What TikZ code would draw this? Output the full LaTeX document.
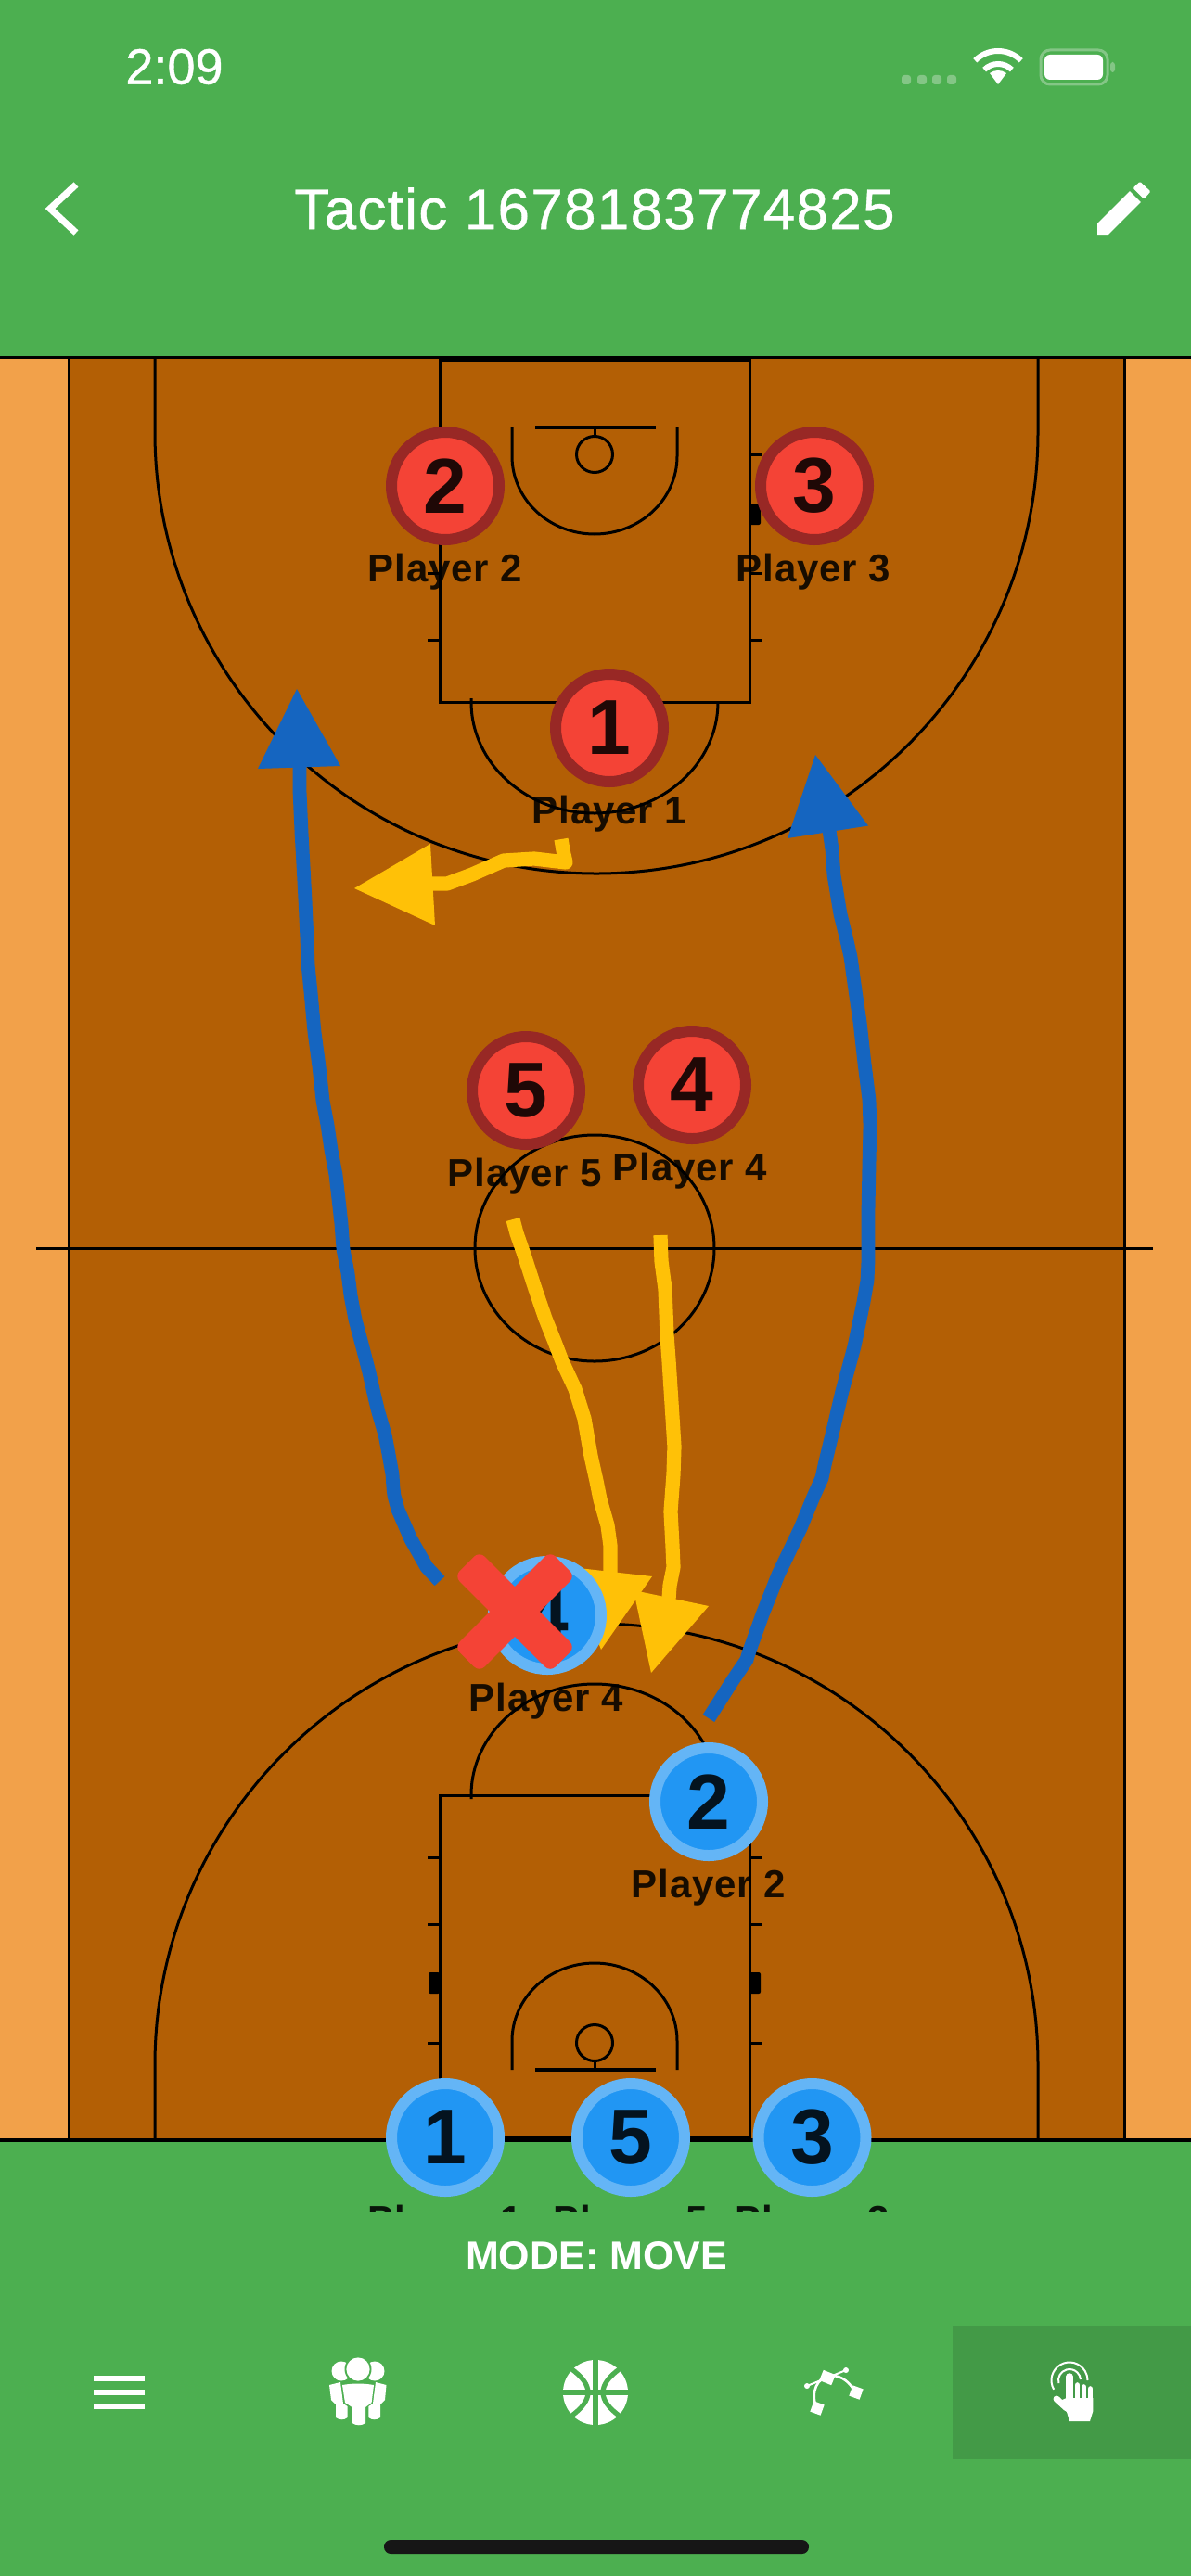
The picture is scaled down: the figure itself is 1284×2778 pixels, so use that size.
\documentclass[tikz,border=0pt]{standalone}
\usepackage{fontspec}
\setmainfont{Liberation Sans}
\newfontfamily\medfont[FakeBold=0.7]{Liberation Sans}
\newfontfamily\titlefont[FakeBold=0.6,LetterSpace=2.1]{Liberation Sans}
\newfontfamily\labelfont[LetterSpace=2]{Liberation Sans Bold}
\newfontfamily\numfont{Liberation Sans Bold}
\definecolor{appgreen}{HTML}{4CAF50}
\definecolor{activegreen}{HTML}{439A47}
\definecolor{courtbrown}{HTML}{B35F05}
\definecolor{sideorange}{HTML}{F2A14A}
\definecolor{redfill}{HTML}{F44336}
\definecolor{redring}{HTML}{982825}
\definecolor{bluefill}{HTML}{2196F3}
\definecolor{bluering}{HTML}{64B5F6}
\definecolor{pathblue}{HTML}{1565C0}
\definecolor{pathyellow}{HTML}{FFC107}
\definecolor{homebar}{HTML}{161616}
\definecolor{dimdot}{HTML}{84C686}
\tikzset{
  courtline/.style={draw=black,line width=1.5pt},
  bluepath/.style={draw=pathblue,line width=7.4pt,line join=round},
  yellowpath/.style={draw=pathyellow,line width=7.6pt,line join=round},
  redplayer/.style={circle,inner sep=0pt,minimum size=58pt,line width=6pt,draw=redring,fill=redfill,text=black,text opacity=.87,font=\numfont\fontsize{42pt}{42pt}\selectfont},
  blueplayer/.style={circle,inner sep=0pt,minimum size=58pt,line width=6pt,draw=bluering,fill=bluefill,text=black,text opacity=.87,font=\numfont\fontsize{42pt}{42pt}\selectfont},
  playerlabel/.style={anchor=base,inner sep=0pt,text=black,text opacity=.87,font=\labelfont\fontsize{21pt}{22pt}\selectfont},
  whitetext/.style={text=white,inner sep=0pt},
  iconline/.style={draw=white,line cap=round},
}
\newcommand{\courthalf}{%
  \draw[courtline] (167,385) -- (167,466) arc[start angle=180,end angle=0,x radius=476,y radius=476] -- (1119,385);
  \draw[courtline] (474,388) rectangle (808,757);
  \draw[courtline] (508,753) -- (508,757) arc[start angle=180,end angle=0,x radius=133,y radius=120] -- (774,757);
  \draw[courtline] (552,461) -- (552,492) arc[start angle=180,end angle=0,x radius=89,y radius=84] -- (730,461);
  \draw[courtline,line width=2pt] (577,461) -- (707,461);
  \draw[courtline] (641,461) -- (641,471);
  \draw[courtline] (641,490) circle[radius=19.5];
  \foreach \ty in {490,618,690} {
    \draw[courtline] (461,\ty) -- (474,\ty);
    \draw[courtline] (808,\ty) -- (822,\ty);
  }
  \fill[black,rounded corners=1pt] (462,543) rectangle (474,566);
  \fill[black,rounded corners=1pt] (808,543) rectangle (820,566);
}
\begin{document}
\begin{tikzpicture}[x=.5pt,y=-.5pt]
\useasboundingbox (0,0) rectangle (1284,2778);
\fill[appgreen] (0,0) rectangle (1284,2778);
% court
\fill[sideorange] (0,385) rectangle (1284,2308);
\fill[courtbrown] (74,385) rectangle (1212,2308);
\draw[black,line width=1.5pt] (74,385) -- (74,2308);
\draw[black,line width=1.5pt] (1212,385) -- (1212,2308);
\courthalf
\begin{scope}[shift={(0,2693)},yscale=-1]
\courthalf
\end{scope}
\draw[black,line width=1.6pt] (0,385.5) -- (1284,385.5);
\draw[black,line width=2pt] (0,2308) -- (1284,2308);
\draw[courtline] (39,1346.5) -- (1243,1346.5);
\draw[courtline] (641,1346) ellipse[x radius=129,y radius=122];
% drawn routes
\draw[bluepath] (474,1705) -- (460,1690) -- (443,1660) -- (429,1628) -- (425,1613) -- (424,1605) -- (423,1590) -- (419,1568) -- (415,1547) -- (408,1523) -- (404,1507) -- (398,1480) -- (391,1453) -- (383,1423) -- (378,1397) -- (375,1373) -- (370,1347) -- (368,1320) -- (365,1293) -- (362,1267) -- (357,1240) -- (353,1213) -- (348,1187) -- (344,1150) -- (339,1113) -- (335,1070) -- (332,1040) -- (331,1013) -- (329,970) -- (327,933) -- (325,897) -- (323,853) -- (323,825);
\fill[pathblue] (320,743) -- (278,829) -- (367,826) -- cycle;
\draw[bluepath] (764,1853) -- (790,1812) -- (805,1790) -- (807,1783) -- (822,1741) -- (839,1698) -- (863,1648) -- (877,1614) -- (886,1594) -- (889,1580) -- (896,1551) -- (908,1500) -- (921,1452) -- (931,1404) -- (935,1381) -- (936,1360) -- (936,1307) -- (937,1256) -- (938,1214) -- (937,1186) -- (932,1147) -- (927,1102) -- (922,1068) -- (917,1032) -- (912,1010) -- (906,986) -- (899,944) -- (897,916) -- (894,895);
\fill[pathblue] (879,814) -- (849,904) -- (936,890.5) -- cycle;
\draw[yellowpath] (605,905) -- (607,917) -- (610,930) -- (576,926) -- (543,928) -- (509,943) -- (482,953) -- (462,953);
\fill[pathyellow] (382,958) -- (464,910) -- (469,998) -- cycle;
\draw[yellowpath] (553,1315) -- (557,1330) -- (565,1353) -- (577,1390) -- (588,1422) -- (598,1447) -- (606,1468) -- (620,1498) -- (630,1530) -- (634,1553) -- (637,1570) -- (643,1597) -- (647,1617) -- (655,1645) -- (658,1667) -- (658,1700);
\fill[pathyellow] (615,1690) -- (703,1700) -- (648,1779) -- cycle;
\draw[yellowpath] (712,1332) -- (713,1360) -- (717,1390) -- (719,1440) -- (721,1467) -- (724,1513) -- (727,1560) -- (726,1590) -- (723,1630) -- (725,1667) -- (726,1690) -- (722,1710) -- (721,1725);
\fill[pathyellow] (702,1804) -- (764,1732) -- (683,1715) -- cycle;
% red players
\node[redplayer] (r2) at (480,524) {2};
\node[playerlabel] (lr2) at (480,627) {Player 2};
\node[redplayer] (r3) at (878,524) {3};
\node[playerlabel] (lr3) at (877,627) {Player 3};
\node[redplayer] (r1) at (657,785) {1};
\node[playerlabel] (lr1) at (657,888) {Player 1};
\node[redplayer] (r5) at (567,1176) {5};
\node[playerlabel] (lr5) at (566,1279) {Player 5};
\node[redplayer] (r4) at (746,1170) {4};
\node[playerlabel] (lr4) at (744,1273) {Player 4};
% blue players
\node[blueplayer] (b4) at (590,1742) {4};
\node[playerlabel] (lb4) at (589,1845) {Player 4};
\node[blueplayer] (b2) at (764,1943) {2};
\node[playerlabel] (lb2) at (764,2046) {Player 2};
\begin{scope}
\clip (0,0) rectangle (1284,2384);
\node[playerlabel] (lb1) at (480,2408) {Player 1};
\node[playerlabel] (lb5) at (680,2408) {Player 5};
\node[playerlabel] (lb3) at (875.5,2408) {Player 3};
\end{scope}
\node[blueplayer] (b1) at (480,2305) {1};
\node[blueplayer] (b5) at (680,2305) {5};
\node[blueplayer] (b3) at (875.5,2305) {3};
% red cross
\begin{scope}[shift={(555,1738)},rotate=45]
\fill[redfill,rounded corners=4pt] (-73,-19) rectangle (73,19);
\fill[redfill,rounded corners=4pt] (-19,-73) rectangle (19,73);
\end{scope}
% status bar
\node[whitetext,font=\medfont\fontsize{27pt}{27pt}\selectfont] (clock) at (188,72) {2:09};
\foreach \dx in {977,994,1010,1026} \fill[dimdot,rounded corners=1.5pt] (\dx-5,81) rectangle (\dx+5,91);
\draw[white,line width=3pt] (1076,90) ++(225:35) arc[start angle=225,end angle=315,radius=35];
\draw[white,line width=3pt] (1076,90) ++(225:21) arc[start angle=225,end angle=315,radius=21];
\fill[white] (1076,91) -- (1067,79) arc[start angle=233,end angle=307,radius=15] -- cycle;
\draw[dimdot,line width=1.5pt,rounded corners=5pt] (1122,54) rectangle (1194,91);
\fill[white,rounded corners=3pt] (1126,59) rectangle (1189,86);
\fill[dimdot,rounded corners=1.5pt] (1197,67) rectangle (1202,78);
% app bar
\node[whitetext,font=\titlefont\fontsize{31pt}{31pt}\selectfont] (title) at (641,225) {Tactic 1678183774825};
\draw[white,line width=3.6pt] (82,199) -- (54,225) -- (82,251);
\begin{scope}[shift={(1173.5,186.5)},x=1.585pt,y=-1.585pt]
\fill[white] (3,17.25) -- (3,21) -- (6.75,21) -- (17.81,9.94) -- (14.06,6.19) -- cycle;
\fill[white,rounded corners=.6pt] (15.13,5.12) -- (17.5,2.9) -- (21.1,6.3) -- (18.88,8.87) -- cycle;
\end{scope}
% bottom panel
\node[whitetext,font=\numfont\fontsize{21.5pt}{22pt}\selectfont] (mode) at (643,2433) {MODE: MOVE};
\fill[activegreen] (1027,2508) rectangle (1284,2652);
% menu icon
\fill[white] (101,2562) rectangle (156,2568);
\fill[white] (101,2577) rectangle (156,2583);
\fill[white] (101,2592) rectangle (156,2598);
% group icon
\fill[white] (368,2557) circle[radius=10.5];
\fill[white] (404,2557) circle[radius=10.5];
\fill[appgreen] (386,2555) ellipse[x radius=14.5,y radius=14.5];
\fill[white] (386,2555) ellipse[x radius=12.6,y radius=12.6];
\fill[white] (369,2572) .. controls (380,2570) and (392,2570) .. (403,2572) -- (400.6,2591) -- (394,2596) -- (394,2613) .. controls (390,2616) and (384,2616) .. (379.6,2613) -- (379.6,2596) -- (372,2591) -- cycle;
\fill[white] (355,2572) -- (367,2569) -- (370,2592) -- (374.6,2595) -- (374.6,2607) .. controls (371,2610) and (366,2610) .. (362,2607) -- (362,2593) -- (357,2588) -- cycle;
\fill[white] (416.5,2572) -- (405,2569) -- (402,2592) -- (397.4,2595) -- (397.4,2607) .. controls (401,2610) and (406,2610) .. (410,2607) -- (410,2593) -- (415,2588) -- cycle;
% ball icon
\fill[white] (642,2580) circle[radius=35];
\draw[appgreen,line width=3pt] (642,2543) -- (642,2617);
\draw[appgreen,line width=2.6pt] (605,2580) -- (679,2580);
\draw[appgreen,line width=2.6pt] (615,2554) .. controls (628,2563) and (634,2572) .. (634,2580) .. controls (634,2588) and (628,2597) .. (615,2606);
\draw[appgreen,line width=2.6pt] (669,2554) .. controls (656,2563) and (650,2572) .. (650,2580) .. controls (650,2588) and (656,2597) .. (669,2606);
% curve icon
\draw[white,line width=1pt] (870,2573) -- (912,2556);
\fill[white] (870,2573) circle[radius=3];
\fill[white] (912,2556) circle[radius=3];
\draw[white,line width=1.3pt] (880,2596) .. controls (874,2580) and (880,2563) .. (897,2562) .. controls (908,2562) and (917,2570) .. (922,2580);
\fill[white,rotate around={-22:(892,2564)}] (885,2558) rectangle (899,2570);
\fill[white,rotate around={-20:(881,2597)}] (875,2591) rectangle (887,2603);
\fill[white,rotate around={-20:(923,2580)}] (917,2574) rectangle (929,2586);
% touch icon
\draw[white,line width=1pt] (1153,2567) ++(150:19.5) arc[start angle=150,end angle=360,radius=19.5];
\draw[white,line width=1pt] (1153,2567) ++(165:12) arc[start angle=165,end angle=355,radius=12];
\draw[iconline,line width=3.8pt] (1153,2563) -- (1153,2592);
\draw[iconline,line width=2.8pt] (1161.5,2572) -- (1161.5,2592);
\draw[iconline,line width=2.8pt] (1168.5,2574) -- (1168.5,2592);
\draw[iconline,line width=2.8pt] (1175.5,2576) -- (1175.5,2597);
\fill[white] (1149.5,2586) -- (1178.4,2586) -- (1178.4,2600) -- (1175,2611) -- (1153,2611) -- (1150,2601) -- (1139,2591) -- cycle;
\draw[iconline,line width=3.5pt] (1139,2587) -- (1150,2597);
% home indicator
\fill[homebar,rounded corners=3.7pt] (414,2739) rectangle (872,2754);
\end{tikzpicture}
\end{document}
